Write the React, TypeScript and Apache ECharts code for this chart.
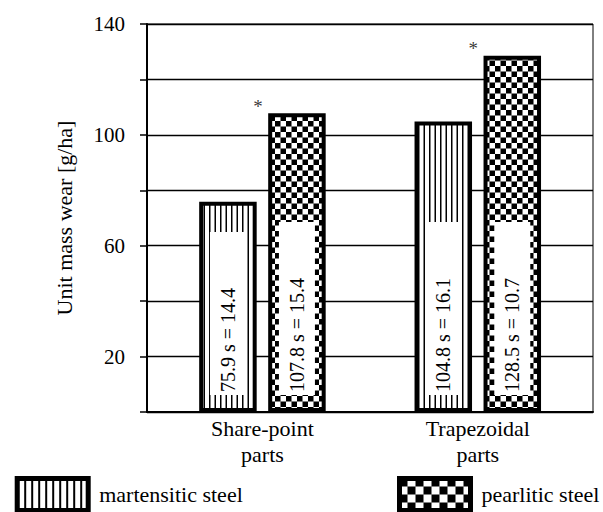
import React, { useEffect, useRef } from "react";
import * as echarts from "echarts";

const categories = ["Share-point\nparts", "Trapezoidal\nparts"];
const seriesNames = ["martensitic steel", "pearlitic steel"];
const martensitic = [75.9, 104.8];
const martensiticSD = [14.4, 16.1];
const pearlitic = [107.8, 128.5];
const pearliticSD = [15.4, 10.7];
const significant = [true, true];
const yLabelValues = [20, 60, 100, 140];

const SERIF = "'Liberation Serif', 'Times New Roman', serif";

function stripeCanvas(period: number, line: number): HTMLCanvasElement {
  const c = document.createElement("canvas");
  c.width = period * 4;
  c.height = 4;
  const ctx = c.getContext("2d")!;
  ctx.fillStyle = "#fff";
  ctx.fillRect(0, 0, c.width, 4);
  ctx.fillStyle = "#000";
  ctx.fillRect(0, 0, line * 2, 4);
  ctx.fillRect(period * 2, 0, line * 2, 4);
  return c;
}

function checkerCanvas(size: number): HTMLCanvasElement {
  const c = document.createElement("canvas");
  c.width = size * 4;
  c.height = size * 4;
  const ctx = c.getContext("2d")!;
  ctx.fillStyle = "#fff";
  ctx.fillRect(0, 0, c.width, c.height);
  ctx.fillStyle = "#000";
  ctx.fillRect(0, 0, size * 2, size * 2);
  ctx.fillRect(size * 2, size * 2, size * 2, size * 2);
  return c;
}

export default function App() {
  const ref = useRef<HTMLDivElement>(null);

  useEffect(() => {
    if (!ref.current) return;
    const chart = echarts.init(ref.current, undefined, { renderer: "svg" });

    const stripe: any = { image: stripeCanvas(5.5, 1.5), repeat: "repeat", imageWidth: 11, imageHeight: 2 };
    const checker: any = { image: checkerCanvas(5.5), repeat: "repeat", imageWidth: 11, imageHeight: 11 };
    const stripeLegend: any = { image: stripeCanvas(7, 2), repeat: "repeat", imageWidth: 14, imageHeight: 2 };
    const checkerLegend: any = { image: checkerCanvas(8), repeat: "repeat", imageWidth: 16, imageHeight: 16 };

    const barLabel = (texts: string[]) => ({
      show: true,
      position: "insideBottom",
      distance: 17,
      rotate: 90,
      align: "left",
      verticalAlign: "middle",
      formatter: (p: any) => texts[p.dataIndex],
      fontFamily: SERIF,
      fontSize: 20,
      lineHeight: 20,
      color: "#000",
      backgroundColor: "#fff",
      padding: [8, 56, 8, 3],
    });

    const martTexts = martensitic.map((v, i) => `${v.toFixed(1)} s = ${martensiticSD[i].toFixed(1)}`);
    const pearlTexts = pearlitic.map((v, i) => `${v.toFixed(1)} s = ${pearliticSD[i].toFixed(1)}`);

    const starData = pearlitic
      .map((v, i) => (significant[i] ? [i, v] : null))
      .filter((d) => d !== null);

    const legendCommon = {
      top: 476,
      padding: 0,
      itemWidth: 71,
      itemHeight: 32,
      icon: "rect",
      selectedMode: false,
      itemStyle: { borderColor: "#000", borderWidth: 5 },
      textStyle: {
        fontFamily: SERIF,
        fontSize: 22,
        color: "#000",
        padding: [0, 0, 0, 6],
      },
    };

    const option: any = {
      animation: false,
      backgroundColor: "#fff",
      grid: {
        left: 147,
        right: 10,
        top: 24,
        bottom: 100,
        show: true,
        borderColor: "#000",
        borderWidth: 1,
        backgroundColor: "transparent",
      },
      legend: [
        {
          ...legendCommon,
          left: 14.7,
          data: [{ name: seriesNames[0], itemStyle: { color: stripeLegend } }],
        },
        {
          ...legendCommon,
          left: 397,
          data: [{ name: seriesNames[1], itemStyle: { color: checkerLegend } }],
        },
      ],
      xAxis: {
        type: "value",
        min: -0.536,
        max: 1.535,
        axisLine: { show: true, onZero: false, lineStyle: { color: "#000", width: 2 } },
        axisTick: { show: false },
        splitLine: { show: false },
        axisLabel: {
          customValues: [0, 1],
          formatter: (v: number) => categories[Math.round(v)] ?? "",
          color: "#000",
          fontFamily: SERIF,
          fontSize: 22,
          lineHeight: 26,
          margin: 3,
        },
      },
      yAxis: {
        type: "value",
        min: 0,
        max: 140,
        interval: 20,
        name: "Unit mass wear [g/ha]",
        nameLocation: "middle",
        nameGap: 72,
        nameTextStyle: { fontFamily: SERIF, fontSize: 22, color: "#000" },
        axisLine: { show: true, onZero: false, lineStyle: { color: "#000", width: 2 } },
        axisTick: { show: true, length: 7, lineStyle: { color: "#000", width: 1.5 } },
        axisLabel: {
          formatter: (v: number) => (yLabelValues.includes(v) ? String(v) : ""),
          color: "#000",
          fontFamily: SERIF,
          fontSize: 21,
          margin: 22,
        },
        splitLine: { show: true, lineStyle: { color: "#000", width: 1.3 } },
      },
      series: [
        {
          name: seriesNames[0],
          type: "bar",
          barWidth: 57.5,
          barGap: "20%",
          data: martensitic.map((v, i) => [i, v]),
          itemStyle: { color: stripe, borderColor: "#000", borderWidth: 4 },
          label: barLabel(martTexts),
        },
        {
          name: seriesNames[1],
          type: "bar",
          barWidth: 57.5,
          barGap: "20%",
          data: pearlitic.map((v, i) => [i, v]),
          itemStyle: { color: checker, borderColor: "#000", borderWidth: 4 },
          label: barLabel(pearlTexts),
        },
        {
          name: "significance",
          type: "scatter",
          symbolSize: 1,
          itemStyle: { color: "rgba(255,255,255,0)" },
          data: starData,
          silent: true,
          label: {
            show: true,
            position: "top",
            distance: 0,
            formatter: "*",
            offset: [-4.5, 3],
            fontFamily: SERIF,
            fontSize: 19,
            color: "#000",
            textBorderWidth: 0,
          },
          z: 5,
        },
      ],
    };

    chart.setOption(option);
    return () => chart.dispose();
  }, []);

  return (
    <div
      ref={ref}
      style={{ position: "fixed", left: 0, top: 0, width: 603, height: 512, background: "#fff" }}
    />
  );
}
